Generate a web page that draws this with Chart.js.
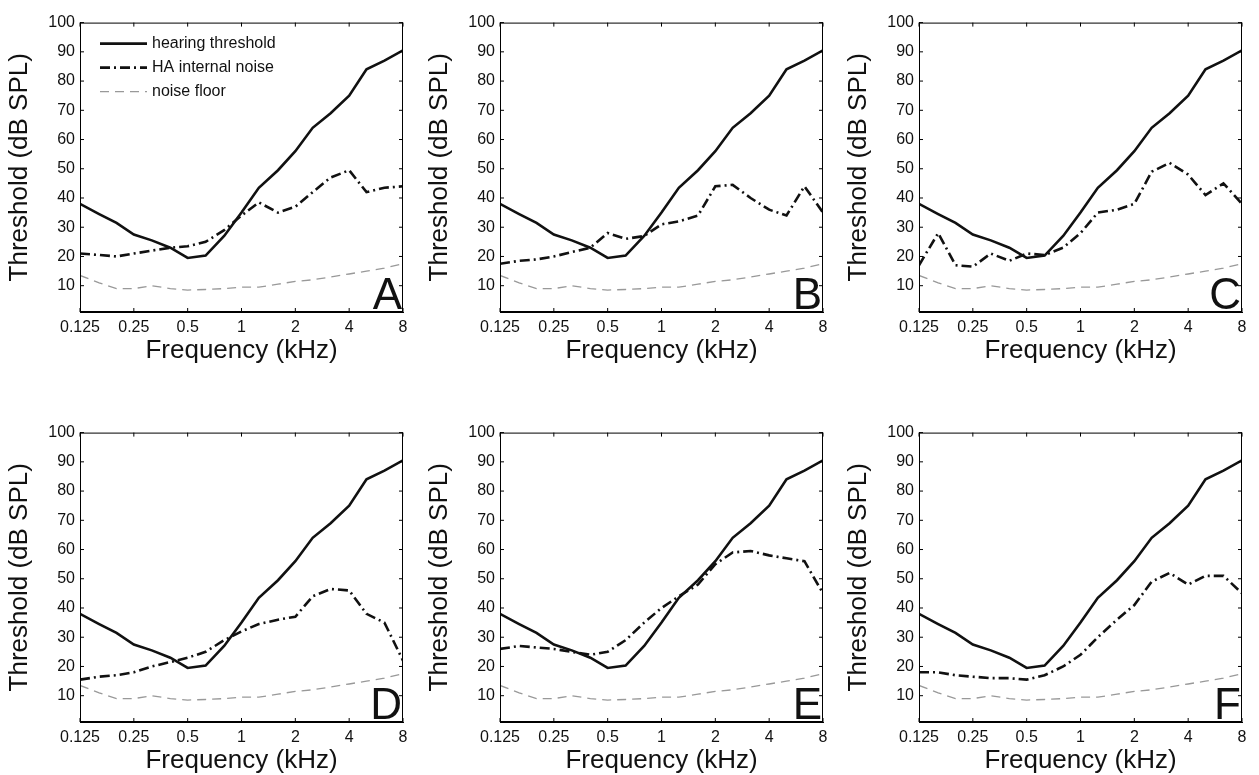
<!DOCTYPE html>
<html><head><meta charset="utf-8">
<script src="https://cdn.jsdelivr.net/npm/chart.js@4"></script>
<style>body{margin:0;background:#fff;width:1259px;height:775px;position:relative;overflow:hidden}
.p{position:absolute;width:415px;height:358px}</style></head><body>
<script>
const freqs = [0.125,0.16,0.2,0.25,0.315,0.4,0.5,0.63,0.8,1,1.25,1.6,2,2.5,3.15,4,5,6.3,8];
const hearing = [38,34.5,31.5,27.5,25.5,23,19.5,20.3,27,35,43.5,49.5,56,64,69,75,84,87,90.5];
const noiseFloor = [13.5,11,9,9,10,9,8.5,8.7,9,9.5,9.5,10.5,11.5,12,13,14,15,16,17.5];
const haNoise = {
  A: [21,20.5,20,21,22,23,23.5,25,29,34,38.5,35,37,42,47,49.5,42,43.5,44],
  B: [17.5,18.5,19,20,21.5,23,28,26,27,31,32,34,44,44.5,40,36,34,44,35],
  C: [17,28,17,16.5,21,18.5,21,20.5,23,28,35,36,38,49,52,48,41,45,38],
  D: [15.5,16.5,17,18,20,21.5,23,25,29,32,34.5,36,37,44,46.5,46,38,35,22],
  E: [26,27,26.5,26,25,24,25,29,35,40,44,48,55,59,59.5,58,57,56,45],
  F: [18,18,17,16.5,16,16,15.5,17,20,24,30,36,41,49,52,48,51,51,45]
};
const panels = ['A','B','C','D','E','F'];
const xTicks = [0.125,0.25,0.5,1,2,4,8];
const yTicks = [10,20,30,40,50,60,70,80,90,100];
const FONT = 'Liberation Sans, Arial, sans-serif';
const plotLefts = [80,500,919], plotTops = [18,428];

const pts = ys => freqs.map((f,i)=>({x:f,y:ys[i]}));

panels.forEach((name, idx) => {
  const c = idx % 3, r = Math.floor(idx / 3);
  const cv = document.createElement('canvas');
  cv.className = 'p';
  cv.width = 415; cv.height = 358;
  cv.style.left = (plotLefts[c]-80)+'px';
  cv.style.top = (plotTops[r]-10)+'px';
  document.body.appendChild(cv);
  new Chart(cv, {
    type: 'line',
    data: {datasets: [
      {label:'hearing threshold', data: pts(hearing), borderColor:'#111', borderWidth:2.6, pointRadius:0, tension:0},
      {label:'HA internal noise', data: pts(haNoise[name]), borderColor:'#111', borderWidth:2.6, borderDash:[10,4,2,4], pointRadius:0, tension:0},
      {label:'noise floor', data: pts(noiseFloor), borderColor:'#999', borderWidth:1.3, borderDash:[9,6], pointRadius:0, tension:0}
    ]},
    options: {
      responsive:false, animation:false, devicePixelRatio:1,
      layout:{padding:{top:10,right:12}},
      plugins:{legend:{display:false}, tooltip:{enabled:false}},
      scales:{
        x:{type:'logarithmic', min:0.125, max:8,
          afterBuildTicks: s => { s.ticks = xTicks.map(v=>({value:v})); },
          afterFit: s => { s.height = 54; },
          grid:{display:false, drawTicks:false}, border:{color:'#000', width:1},
          ticks:{color:'#111', font:{family:FONT,size:16}, maxRotation:0, autoSkip:false, padding:6, callback:v=>String(v)},
          title:{display:true, text:'Frequency (kHz)', color:'#111', font:{family:FONT,size:26}, padding:{top:0,bottom:0}}},
        y:{min:1, max:100,
          afterBuildTicks: s => { s.ticks = yTicks.map(v=>({value:v})); },
          afterFit: s => { s.width = 80; },
          grid:{display:false, drawTicks:false}, border:{color:'#000', width:1},
          ticks:{color:'#111', font:{family:FONT,size:16}, autoSkip:false, padding:5},
          title:{display:true, text:'Threshold (dB SPL)', color:'#111', font:{family:FONT,size:26}, padding:{bottom:4}}}
      }
    },
    plugins:[{id:'frame', afterDraw(ch){
      const a = ch.chartArea, g = ch.ctx;
      g.save();
      g.strokeStyle='#000'; g.lineWidth=1;
      g.strokeRect(a.left+0.5,a.top+0.5,a.right-a.left-1,a.bottom-a.top-1);
      ch.scales.x.ticks.forEach(t=>{const px=ch.scales.x.getPixelForValue(t.value);
        g.beginPath();g.moveTo(px,a.bottom);g.lineTo(px,a.bottom-4);g.moveTo(px,a.top);g.lineTo(px,a.top+4);g.stroke();});
      ch.scales.y.ticks.forEach(t=>{const py=ch.scales.y.getPixelForValue(t.value);
        g.beginPath();g.moveTo(a.left,py);g.lineTo(a.left+4,py);g.moveTo(a.right,py);g.lineTo(a.right-4,py);g.stroke();});
      g.fillStyle='#111'; g.font='44px '+FONT; g.textAlign='right'; g.textBaseline='alphabetic';
      g.fillText(name, a.right-1, a.bottom-3);
      if (name==='A') {
        g.font='16px '+FONT; g.textAlign='left'; g.textBaseline='middle';
        ch.data.datasets.forEach((d,i)=>{
          const y = a.top+21+i*24;
          g.strokeStyle=d.borderColor; g.lineWidth=d.borderWidth; g.setLineDash(d.borderDash||[]);
          g.beginPath(); g.moveTo(a.left+20,y); g.lineTo(a.left+67,y); g.stroke();
          g.fillText(d.label, a.left+72, y);
        });
      }
      g.restore();
    }}]
  });
});
</script>
</body></html>
